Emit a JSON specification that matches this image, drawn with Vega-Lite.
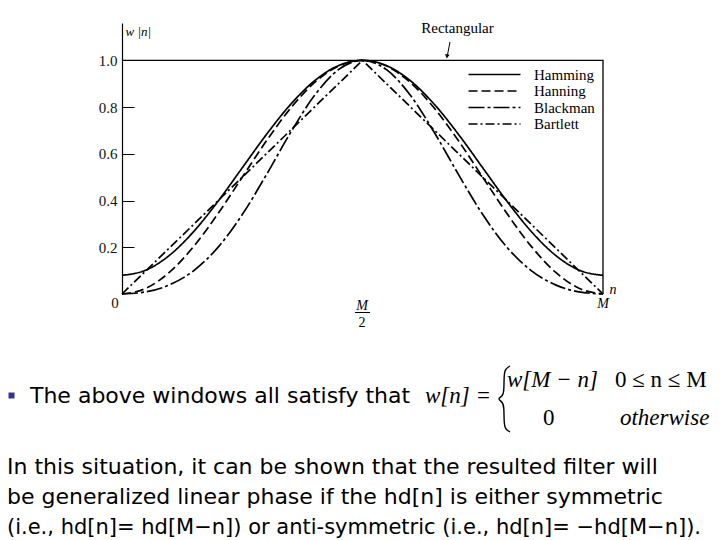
{
  "$schema": "https://vega.github.io/schema/vega-lite/v6.json",
  "width": 481,
  "height": 271,
  "autosize": {"type": "none"},
  "padding": {"left": 122, "top": 23, "right": 117, "bottom": 246},
  "background": "white",
  "config": {"view": {"stroke": null}},
  "datasets": {
    "win": [
      {"w": "Hamming", "t": 0, "v": 0.08},
      {"w": "Hamming", "t": 0.05, "v": 0.1025},
      {"w": "Hamming", "t": 0.1, "v": 0.1679},
      {"w": "Hamming", "t": 0.15, "v": 0.2696},
      {"w": "Hamming", "t": 0.2, "v": 0.3979},
      {"w": "Hamming", "t": 0.25, "v": 0.54},
      {"w": "Hamming", "t": 0.3, "v": 0.6821},
      {"w": "Hamming", "t": 0.35, "v": 0.8104},
      {"w": "Hamming", "t": 0.4, "v": 0.9121},
      {"w": "Hamming", "t": 0.45, "v": 0.9775},
      {"w": "Hamming", "t": 0.5, "v": 1.0},
      {"w": "Hamming", "t": 0.55, "v": 0.9775},
      {"w": "Hamming", "t": 0.6, "v": 0.9121},
      {"w": "Hamming", "t": 0.65, "v": 0.8104},
      {"w": "Hamming", "t": 0.7, "v": 0.6821},
      {"w": "Hamming", "t": 0.75, "v": 0.54},
      {"w": "Hamming", "t": 0.8, "v": 0.3979},
      {"w": "Hamming", "t": 0.85, "v": 0.2696},
      {"w": "Hamming", "t": 0.9, "v": 0.1679},
      {"w": "Hamming", "t": 0.95, "v": 0.1025},
      {"w": "Hamming", "t": 1, "v": 0.08},
      {"w": "Hanning", "t": 0, "v": 0},
      {"w": "Hanning", "t": 0.05, "v": 0.0245},
      {"w": "Hanning", "t": 0.1, "v": 0.0955},
      {"w": "Hanning", "t": 0.15, "v": 0.2061},
      {"w": "Hanning", "t": 0.2, "v": 0.3455},
      {"w": "Hanning", "t": 0.25, "v": 0.5},
      {"w": "Hanning", "t": 0.3, "v": 0.6545},
      {"w": "Hanning", "t": 0.35, "v": 0.7939},
      {"w": "Hanning", "t": 0.4, "v": 0.9045},
      {"w": "Hanning", "t": 0.45, "v": 0.9755},
      {"w": "Hanning", "t": 0.5, "v": 1.0},
      {"w": "Hanning", "t": 0.55, "v": 0.9755},
      {"w": "Hanning", "t": 0.6, "v": 0.9045},
      {"w": "Hanning", "t": 0.65, "v": 0.7939},
      {"w": "Hanning", "t": 0.7, "v": 0.6545},
      {"w": "Hanning", "t": 0.75, "v": 0.5},
      {"w": "Hanning", "t": 0.8, "v": 0.3455},
      {"w": "Hanning", "t": 0.85, "v": 0.2061},
      {"w": "Hanning", "t": 0.9, "v": 0.0955},
      {"w": "Hanning", "t": 0.95, "v": 0.0245},
      {"w": "Hanning", "t": 1, "v": 0},
      {"w": "Blackman", "t": 0, "v": 0},
      {"w": "Blackman", "t": 0.05, "v": 0.0092},
      {"w": "Blackman", "t": 0.1, "v": 0.0402},
      {"w": "Blackman", "t": 0.15, "v": 0.1014},
      {"w": "Blackman", "t": 0.2, "v": 0.2008},
      {"w": "Blackman", "t": 0.25, "v": 0.34},
      {"w": "Blackman", "t": 0.3, "v": 0.5098},
      {"w": "Blackman", "t": 0.35, "v": 0.6892},
      {"w": "Blackman", "t": 0.4, "v": 0.8492},
      {"w": "Blackman", "t": 0.45, "v": 0.9602},
      {"w": "Blackman", "t": 0.5, "v": 1.0},
      {"w": "Blackman", "t": 0.55, "v": 0.9602},
      {"w": "Blackman", "t": 0.6, "v": 0.8492},
      {"w": "Blackman", "t": 0.65, "v": 0.6892},
      {"w": "Blackman", "t": 0.7, "v": 0.5098},
      {"w": "Blackman", "t": 0.75, "v": 0.34},
      {"w": "Blackman", "t": 0.8, "v": 0.2008},
      {"w": "Blackman", "t": 0.85, "v": 0.1014},
      {"w": "Blackman", "t": 0.9, "v": 0.0402},
      {"w": "Blackman", "t": 0.95, "v": 0.0092},
      {"w": "Blackman", "t": 1, "v": 0},
      {"w": "Bartlett", "t": 0, "v": 0},
      {"w": "Bartlett", "t": 0.5, "v": 1.0},
      {"w": "Bartlett", "t": 1, "v": 0}
    ]
  },
  "encoding": {
    "x": {"field": "t", "type": "quantitative", "scale": {"domain": [0, 1], "nice": false, "zero": false}, "axis": null},
    "y": {
      "field": "v", "type": "quantitative",
      "scale": {"domain": [0, 1.16], "nice": false},
      "axis": {
        "values": [0.2, 0.4, 0.6, 0.8, 1],
        "format": ".1f",
        "title": "w |n|",
        "titleAngle": 0, "titleX": 3, "titleY": 12, "titleAlign": "left", "titleBaseline": "alphabetic",
        "titleFont": "Liberation Serif", "titleFontStyle": "italic", "titleFontWeight": "normal", "titleFontSize": 13, "titleColor": "#000",
        "labelFont": "Liberation Serif", "labelFontSize": 15, "labelColor": "#111",
        "tickSize": -12, "tickColor": "#000", "tickWidth": 1,
        "domainColor": "#000", "domainWidth": 1.2,
        "labelPadding": 17, "grid": false
      }
    }
  },
  "layer": [
    {
      "data": {"name": "win"},
      "transform": [{"filter": "datum.w != 'Bartlett'"}],
      "mark": {"type": "line", "interpolate": "monotone", "strokeWidth": 1.7, "color": "#000"},
      "encoding": {
        "strokeDash": {
          "field": "w", "type": "nominal",
          "scale": {"domain": ["Hamming", "Hanning", "Blackman", "Bartlett"], "range": [[1, 0], [9, 4], [16, 3, 3, 3], [9, 3, 2, 3]]},
          "legend": {
            "title": null, "orient": "none", "legendX": 365, "legendY": 44,
            "symbolType": "M-5,0H5", "symbolSize": 108, "symbolStrokeWidth": 1.7, "symbolStrokeColor": "#000",
            "rowPadding": 0.5, "padding": 0,
            "labelFont": "Liberation Serif", "labelFontSize": 15, "labelColor": "#000", "labelOffset": 32
          }
        }
      }
    },
    {
      "data": {"name": "win"},
      "transform": [{"filter": "datum.w == 'Bartlett'"}],
      "mark": {"type": "line", "interpolate": "linear", "strokeWidth": 1.7, "color": "#000"},
      "encoding": {
        "strokeDash": {
          "field": "w", "type": "nominal",
          "scale": {"domain": ["Hamming", "Hanning", "Blackman", "Bartlett"], "range": [[1, 0], [9, 4], [16, 3, 3, 3], [9, 3, 2, 3]]}
        }
      }
    },
    {
      "data": {"values": [{"t": 0, "v": 1, "i": 0}, {"t": 1, "v": 1, "i": 1}, {"t": 1, "v": 0, "i": 2}]},
      "mark": {"type": "line", "strokeWidth": 1.3, "color": "#000"},
      "encoding": {"order": {"field": "i", "type": "quantitative"}}
    },
    {
      "data": {"values": [{"t": 0.6975, "v": 1.1172, "text": "Rectangular"}]},
      "mark": {"type": "text", "font": "Liberation Serif", "fontSize": 15, "align": "center", "baseline": "alphabetic", "color": "#000"},
      "encoding": {"text": {"field": "text"}}
    },
    {
      "data": {"values": [{"t": 0.6819, "v": 1.0787, "t2": 0.6764, "v2": 1.02}]},
      "mark": {"type": "rule", "strokeWidth": 1, "color": "#000"},
      "encoding": {"x2": {"field": "t2"}, "y2": {"field": "v2"}}
    },
    {
      "data": {"values": [{"t": 0.6757, "v": 1.017}]},
      "mark": {"type": "point", "shape": "triangle-down", "size": 22, "filled": true, "color": "#000", "opacity": 1, "angle": 10},
      "encoding": {}
    },
    {
      "data": {"values": [{"t": -0.0145, "v": -0.06, "text": "0"}]},
      "mark": {"type": "text", "font": "Liberation Serif", "fontSize": 15, "align": "center", "baseline": "alphabetic", "color": "#111"},
      "encoding": {"text": {"field": "text"}}
    },
    {
      "data": {"values": [
        {"t": 0.499, "v": -0.0685, "text": "M"},
        {"t": 1.0, "v": -0.0599, "text": "M"},
        {"t": 1.0208, "v": 0.0, "text": "n"}
      ]},
      "mark": {"type": "text", "font": "Liberation Serif", "fontStyle": "italic", "fontSize": 14, "align": "center", "baseline": "alphabetic", "color": "#000"},
      "encoding": {"text": {"field": "text"}}
    },
    {
      "data": {"values": [{"t": 0.499, "v": -0.1413, "text": "2"}]},
      "mark": {"type": "text", "font": "Liberation Serif", "fontSize": 14, "align": "center", "baseline": "alphabetic", "color": "#000"},
      "encoding": {"text": {"field": "text"}}
    },
    {
      "data": {"values": [{"t": 0.4844, "v": -0.0792, "t2": 0.5156}]},
      "mark": {"type": "rule", "strokeWidth": 1, "color": "#000"},
      "encoding": {"x2": {"field": "t2"}}
    },
    {
      "data": {"values": [
        {"t": -0.1913, "v": -0.4666, "text": "The above windows all satisfy that"},
        {"t": -0.2391, "v": -0.7705, "text": "In this situation, it can be shown that the resulted filter will"},
        {"t": -0.2391, "v": -0.8989, "text": "be generalized linear phase if the hd[n] is either symmetric"}
      ]},
      "mark": {"type": "text", "font": "DejaVu Sans", "fontSize": 22, "align": "left", "baseline": "alphabetic", "color": "#000"},
      "encoding": {"text": {"field": "text"}}
    },
    {
      "data": {"values": [
        {"t": -0.2391, "v": -1.0273, "text": "(i.e., hd[n]= hd[M−n]) or anti-symmetric (i.e., hd[n]= −hd[M−n])."}
      ]},
      "mark": {"type": "text", "font": "DejaVu Sans", "fontSize": 21, "align": "left", "baseline": "alphabetic", "color": "#000"},
      "encoding": {"text": {"field": "text"}}
    },
    {
      "data": {"values": [{"t": -0.2297, "v": -0.4345}]},
      "mark": {"type": "point", "shape": "square", "size": 36, "filled": true, "color": "#3333a0", "opacity": 1},
      "encoding": {}
    },
    {
      "data": {"values": [
        {"t": 0.63, "v": -0.4666, "text": "w[n] ="},
        {"t": 0.8004, "v": -0.398, "text": "w[M − n]"},
        {"t": 1.0353, "v": -0.5607, "text": "otherwise"}
      ]},
      "mark": {"type": "text", "font": "Liberation Serif", "fontStyle": "italic", "fontSize": 23, "align": "left", "baseline": "alphabetic", "color": "#000"},
      "encoding": {"text": {"field": "text"}}
    },
    {
      "data": {"values": [
        {"t": 1.0249, "v": -0.398, "text": "0 ≤ n ≤ M"},
        {"t": 0.8753, "v": -0.5607, "text": "0"}
      ]},
      "mark": {"type": "text", "font": "Liberation Serif", "fontSize": 23, "align": "left", "baseline": "alphabetic", "color": "#000"},
      "encoding": {"text": {"field": "text"}}
    },
    {
      "data": {"values": [
        {"t": 0.8067, "v": -0.3082, "i": 1},
        {"t": 0.7963, "v": -0.3210, "i": 2},
        {"t": 0.7942, "v": -0.3510, "i": 3},
        {"t": 0.7942, "v": -0.4109, "i": 4},
        {"t": 0.7921, "v": -0.4366, "i": 5},
        {"t": 0.7796, "v": -0.4494, "i": 6},
        {"t": 0.7921, "v": -0.4623, "i": 7},
        {"t": 0.7942, "v": -0.4880, "i": 8},
        {"t": 0.7942, "v": -0.5479, "i": 9},
        {"t": 0.7963, "v": -0.5779, "i": 10},
        {"t": 0.8067, "v": -0.5907, "i": 11}
      ]},
      "mark": {"type": "line", "interpolate": "basis", "strokeWidth": 1.4, "color": "#000"},
      "encoding": {"order": {"field": "i", "type": "quantitative"}}
    }
  ]
}
